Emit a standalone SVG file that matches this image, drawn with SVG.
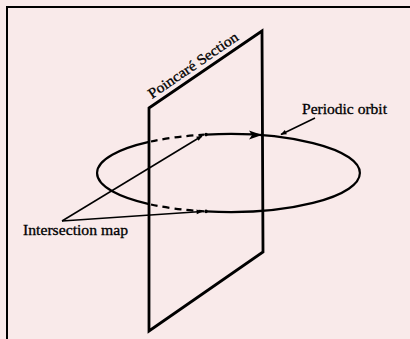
<svg xmlns="http://www.w3.org/2000/svg" width="410" height="339" viewBox="0 0 410 339">
<style>
.bg{fill:#f9eaea}
.frame{fill:none;stroke:#000;stroke-width:2}
.plane{fill:none;stroke:#000;stroke-width:2.8;stroke-linejoin:miter}
.orbit{fill:none;stroke:#000;stroke-width:2.2}
.dash{fill:none;stroke:#000;stroke-width:2.2;stroke-dasharray:7 5}
.ptr{fill:none;stroke:#000;stroke-width:1.5}
.lbl{font-family:"Liberation Serif","Times New Roman",serif;font-size:14.5px;fill:#000;stroke:#000;stroke-width:0.3}
</style>
<defs>
<marker id="ah" viewBox="0 0 10 10" refX="9" refY="5" markerWidth="7" markerHeight="6" markerUnits="userSpaceOnUse" orient="auto">
<path d="M0,1 L10,5 L0,9 Z" fill="#000"/>
</marker>
</defs>
<rect class="bg" x="0" y="0" width="410" height="339"/>
<rect class="frame" x="7" y="7" width="420" height="350"/>
<g id="poincare-section">
<path class="plane" d="M149,108 L262,31 L263,252 L149,331 Z"/>
<text class="lbl" x="0" y="0" textLength="106" lengthAdjust="spacingAndGlyphs" transform="translate(152,99) rotate(-34.3)">Poincaré Section</text>
</g>
<g id="periodic-orbit">
<path class="orbit" d="M149,141.9 A131,39 0 0 0 149,204.1"/>
<path class="orbit" d="M206,134.6 A131,39 0 1 1 206,211.4"/>
<path class="dash" d="M151,141.5 A131,39 0 0 1 204,134.7"/>
<path class="dash" d="M151,204.5 A131,39 0 0 0 204,211.3"/>
<circle cx="206" cy="134.6" r="1.8" fill="#000"/>
<circle cx="206" cy="211.4" r="1.8" fill="#000"/>
<path d="M249,130.5 L262,135 L249,139.5 L252,135 Z" fill="#000"/>
<text class="lbl" x="302" y="114" textLength="85" lengthAdjust="spacingAndGlyphs">Periodic orbit</text>
</g>
<g id="intersection-map">
<text class="lbl" x="23" y="235" textLength="105" lengthAdjust="spacingAndGlyphs">Intersection map</text>
</g>
<g id="connectors">
<line class="ptr" x1="315" y1="118" x2="281" y2="134.5" marker-end="url(#ah)"/>
<line class="ptr" x1="62" y1="221" x2="202" y2="136" marker-end="url(#ah)"/>
<line class="ptr" x1="62" y1="221" x2="202" y2="211.5" marker-end="url(#ah)"/>
</g>
</svg>
